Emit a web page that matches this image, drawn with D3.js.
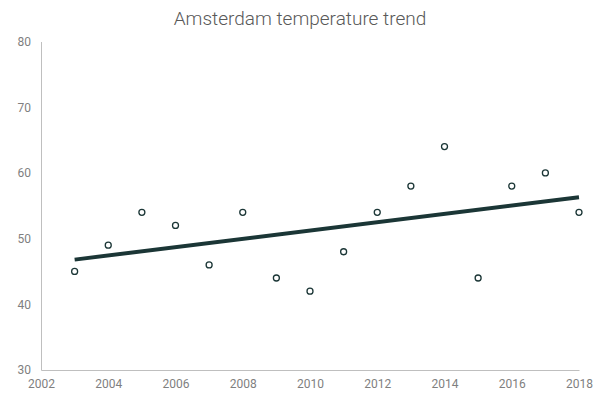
<!DOCTYPE html>
<html>
<head>
<meta charset="utf-8">
<script src="https://cdn.jsdelivr.net/npm/d3@7"></script>
<style>
  body { margin: 0; background: #fff; }
  text { font-family: Roboto, sans-serif; }
</style>
</head>
<body>
<div id="chart"></div>
<script>
// data
var years = [2003, 2004, 2005, 2006, 2007, 2008, 2009, 2010, 2011, 2012, 2013, 2014, 2015, 2016, 2017, 2018];
var temps = [45, 49, 54, 52, 46, 54, 44, 42, 48, 54, 58, 64, 44, 58, 60, 54];
var trendYears = [2003, 2018];
var trendValues = [46.8, 56.3];
var xTicks = [2002, 2004, 2006, 2008, 2010, 2012, 2014, 2016, 2018];
var yTicks = [30, 40, 50, 60, 70, 80];

var width = 600, height = 401;
var margin = { top: 41.5, left: 41, right: 21, bottom: 31 };

var svg = d3.select("#chart")
  .append("svg")
  .attr("width", width)
  .attr("height", height);

var xPositionScale = d3.scaleLinear()
  .domain([2002, 2018])
  .range([margin.left, width - margin.right]);
var yPositionScale = d3.scaleLinear()
  .domain([30, 80])
  .range([height - margin.bottom, margin.top]);

// title
svg.append("text")
  .attr("x", 300)
  .attr("y", 25)
  .attr("text-anchor", "middle")
  .attr("font-size", 19)
  .attr("font-weight", 300)
  .attr("fill", "#595959")
  .text("Amsterdam temperature trend");

// axes
var xAxis = d3.axisBottom(xPositionScale)
  .tickValues(xTicks)
  .tickFormat(d3.format("d"))
  .tickSize(0)
  .tickPadding(9);
svg.append("g")
  .attr("class", "axis x-axis")
  .attr("transform", "translate(0," + yPositionScale(30) + ")")
  .call(xAxis);

var yAxis = d3.axisLeft(yPositionScale)
  .tickValues(yTicks)
  .tickSize(0)
  .tickPadding(10);
svg.append("g")
  .attr("class", "axis y-axis")
  .attr("transform", "translate(" + xPositionScale(2002) + ",0)")
  .call(yAxis);

svg.selectAll(".axis .domain")
  .attr("stroke", "#bfbfbf")
  .attr("stroke-width", 1);
svg.selectAll(".axis text")
  .attr("font-family", "Roboto, sans-serif")
  .attr("font-size", 12)
  .attr("fill", "#7f7f7f");

// trend line
var trend = trendYears.map(function(y, i) { return { x: y, v: trendValues[i] }; });
var line = d3.line()
  .x(function(d) { return xPositionScale(d.x); })
  .y(function(d) { return yPositionScale(d.v); });

svg.append("path")
  .datum(trend)
  .attr("d", line)
  .attr("fill", "none")
  .attr("stroke", "#1b3636")
  .attr("stroke-width", 4);

// points
svg.selectAll(".pt")
  .data(years)
  .enter().append("circle")
  .attr("class", "pt")
  .attr("cx", function(d) { return xPositionScale(d); })
  .attr("cy", function(d, i) { return yPositionScale(temps[i]); })
  .attr("r", 3)
  .attr("fill", "white")
  .attr("stroke", "#1b3636")
  .attr("stroke-width", 1.3);
</script>
</body>
</html>
